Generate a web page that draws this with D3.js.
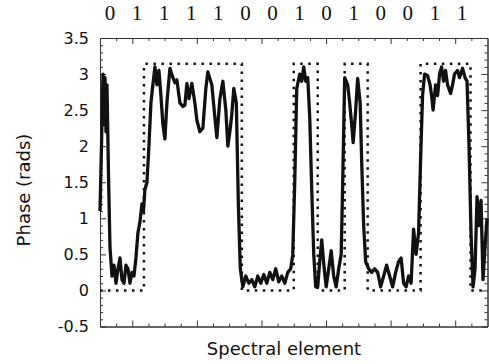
<!DOCTYPE html>
<html lang="en">
<meta charset="utf-8">
<style>
body { margin: 0; background: #fff; }
.axis text { font-family: 'DejaVu Sans', sans-serif; font-size: 16px; fill: #111; }
.axis path, .axis line { stroke: #333; stroke-width: 1px; }
.phase { fill: none; stroke: #111; stroke-width: 3.3px; stroke-linejoin: round; }
.ideal { fill: none; stroke: #111; stroke-width: 2.5px; stroke-dasharray: 2.5,5.5; }
.bits { font-family: 'Liberation Serif', 'Times New Roman', serif; font-size: 21px; fill: #111; }
.title { font-family: 'DejaVu Sans', sans-serif; font-size: 18px; fill: #111; }
</style>
<body>
<div id="chart"></div>
<script src="https://d3js.org/d3.v7.min.js"></script>
<script>

var width = 489,
    height = 364;

// encoded bit pattern shown above the plot
var bits = [0, 1, 1, 1, 1, 0, 0, 1, 0, 1, 0, 0, 1, 1];

// y ticks
var yTicks = [-0.5, 0, 0.5, 1, 1.5, 2, 2.5, 3, 3.5];
var yTickLabels = ["-0.5", "0", "0.5", "1", "1.5", "2", "2.5", "3", "3.5"];

// measured phase, spectral element vs rads
var phaseX = [-10, -9.54, -9.07, -8.76, -8.45, -8.14, -7.84, -7.37, -6.91, -6.29,
  -5.67, -5.05, -4.43, -3.81, -3.20, -2.58, -1.96, -1.34, -0.72, -0.10,
  0.52, 1.13, 1.75, 2.37, 2.99, 3.45, 3.92, 4.54, 5.15, 5.77,
  6.24, 7.01, 7.63, 8.25, 8.87, 9.48, 10.10, 10.72, 11.65, 12.58,
  13.20, 13.81, 14.74, 15.67, 16.29, 16.91, 17.53, 18.45, 19.38, 20.0,
  20.93, 21.86, 22.78, 23.40, 24.64, 25.57, 26.19, 27.11, 28.04, 28.97,
  29.59, 30.21, 30.83, 31.44, 32.22, 32.84, 33.45, 34.23, 35.15, 36.08,
  37.01, 37.94, 38.87, 39.79, 40.72, 41.65, 42.58, 43.51, 44.43, 45.36,
  46.29, 47.22, 48.14, 49.07, 49.69, 50.31, 50.93, 51.86, 52.47, 53.09,
  53.71, 54.33, 54.95, 55.57, 56.19, 56.80, 57.42, 58.04, 58.66, 59.43,
  60.05, 60.83, 61.60, 62.37, 63.14, 63.92, 64.69, 65.16, 65.77, 66.70,
  67.32, 67.94, 68.40, 69.18, 69.79, 70.57, 71.03, 71.65, 72.27, 73.20,
  74.12, 75.05, 75.98, 76.91, 77.84, 78.76, 79.69, 80.62, 81.55, 82.47,
  83.25, 84.02, 84.79, 85.57, 86.34, 87.11, 87.88, 88.66, 89.27, 89.89,
  90.51, 91.44, 92.22, 92.68, 93.15, 93.92, 94.54, 95.16, 95.78, 96.39,
  97.01, 97.63, 98.56, 99.18, 99.79, 100.72, 101.34, 102.27, 103.04, 103.66,
  104.28, 104.90, 105.52, 106.14, 106.76, 107.38, 107.99, 108.61, 109.23, 109.85];
var phaseY = [1.1, 2.0, 3.0, 2.3, 2.95, 2.2, 2.85, 1.6, 0.6, 0.2,
  0.35, 0.1, 0.3, 0.45, 0.15, 0.1, 0.35, 0.3, 0.1, 0.25,
  0.2, 0.45, 0.8, 0.95, 1.2, 1.1, 1.4, 1.5, 2.0, 2.6,
  2.8, 3.1, 2.85, 3.05, 2.7, 2.3, 2.1, 2.6, 3.08, 2.95,
  2.88, 2.92, 2.6, 2.55, 2.57, 2.87, 2.66, 2.87, 2.6, 2.36,
  2.2, 2.25, 2.8, 3.03, 2.85, 2.4, 2.12, 2.65, 2.9, 2.5,
  2.0, 2.2, 2.45, 2.8, 2.6, 1.2, 0.3, 0.05, 0.2, 0.1,
  0.15, 0.05, 0.2, 0.1, 0.22, 0.1, 0.25, 0.15, 0.3, 0.12,
  0.2, 0.1, 0.25, 0.3, 0.5, 1.5, 2.8, 3.0, 2.9, 3.1,
  2.9, 2.95, 2.4, 1.4, 0.5, 0.05, 0.05, 0.4, 0.7, 0.3,
  0.05, 0.3, 0.55, 0.2, 0.05, 0.3, 0.5, 1.5, 2.95, 2.85,
  2.6, 2.3, 2.05, 2.5, 2.94, 2.6, 1.8, 0.9, 0.4, 0.3,
  0.25, 0.3, 0.25, 0.05, 0.2, 0.35, 0.2, 0.05, 0.25, 0.4,
  0.45, 0.1, 0.05, 0.2, 0.1, 0.85, 0.5, 0.8, 1.8, 2.7,
  3.0, 2.98, 2.85, 2.7, 2.5, 2.85, 2.7, 3.0, 3.1, 2.9,
  3.05, 2.85, 2.73, 2.85, 3.0, 3.05, 2.95, 3.08, 2.95, 2.9,
  2.0, 0.8, 0.05, 0.3, 1.3, 0.9, 1.25, 0.15, 0.6, 1.0];

// ideal phase steps (0 or pi) - edges in spectral element units
var idealEdges = [-10, 3.61, 33.92, 50.0, 57.42, 65.77, 72.89, 89.28, 104.74, 110];
var idealLevels = [0, Math.PI, 0, Math.PI, 0, Math.PI, 0, Math.PI, 0];

var x = d3.scaleLinear().domain([-10, 110]).range([100, 487.5]);
var y = d3.scaleLinear().domain([-0.5, 3.5]).range([326.5, 38]);

var svg = d3.select("#chart").append("svg")
    .attr("width", width)
    .attr("height", height);

var majorX = d3.range(0, 101, 20);
var minorX = d3.range(-5, 110, 5).filter(function(d) { return d % 20 !== 0; });
var minorY = d3.range(-5, 35).map(function(d) { return d / 10; })
    .filter(function(d) { return Math.abs(d * 2 - Math.round(d * 2)) > 0.01; });

// minor ticks first
svg.append("g").attr("class", "axis").attr("transform", "translate(0,326.5)")
    .call(d3.axisBottom(x).tickValues(minorX).tickSize(-3).tickSizeOuter(0).tickFormat(""));
svg.append("g").attr("class", "axis").attr("transform", "translate(0,38)")
    .call(d3.axisTop(x).tickValues(minorX).tickSize(-3).tickSizeOuter(0).tickFormat(""));
svg.append("g").attr("class", "axis").attr("transform", "translate(100,0)")
    .call(d3.axisLeft(y).tickValues(minorY).tickSize(-3).tickSizeOuter(0).tickFormat(""));
svg.append("g").attr("class", "axis").attr("transform", "translate(487.5,0)")
    .call(d3.axisRight(y).tickValues(minorY).tickSize(-3).tickSizeOuter(0).tickFormat(""));

// major ticks
svg.append("g").attr("class", "axis").attr("transform", "translate(0,326.5)")
    .call(d3.axisBottom(x).tickValues(majorX).tickSize(-6).tickSizeOuter(0).tickFormat(""));
svg.append("g").attr("class", "axis").attr("transform", "translate(0,38)")
    .call(d3.axisTop(x).tickValues(majorX).tickSize(-6).tickSizeOuter(0).tickFormat(""));
svg.append("g").attr("class", "axis").attr("transform", "translate(100,0)")
    .call(d3.axisLeft(y).tickValues(yTicks).tickSize(-6).tickSizeOuter(0).tickPadding(11)
      .tickFormat(function(d, i) { return yTickLabels[i]; }));
svg.append("g").attr("class", "axis").attr("transform", "translate(487.5,0)")
    .call(d3.axisRight(y).tickValues(yTicks).tickSize(-6).tickSizeOuter(0).tickFormat(""));

// ideal dotted steps
var idealPts = [];
idealLevels.forEach(function(v, i) {
  idealPts.push([idealEdges[i], v]);
  idealPts.push([idealEdges[i + 1], v]);
});
svg.append("path")
    .datum(idealPts)
    .attr("class", "ideal")
    .attr("d", d3.line()
      .x(function(d) { return x(d[0]); })
      .y(function(d) { return y(d[1]); }));

// measured phase
svg.append("path")
    .datum(d3.zip(phaseX, phaseY))
    .attr("class", "phase")
    .attr("d", d3.line()
      .x(function(d) { return x(d[0]); })
      .y(function(d) { return y(d[1]); }));

// bit labels
var bitX = d3.scalePoint().domain(d3.range(bits.length)).range([110, 462]);
svg.append("g").selectAll("text")
    .data(bits)
  .enter().append("text")
    .attr("class", "bits")
    .attr("x", function(d, i) { return bitX(i); })
    .attr("y", 20)
    .attr("text-anchor", "middle")
    .text(function(d) { return d; });

// axis titles
svg.append("text")
    .attr("class", "title")
    .attr("x", 284)
    .attr("y", 355)
    .attr("text-anchor", "middle")
    .text("Spectral element");

svg.append("text")
    .attr("class", "title")
    .attr("transform", "translate(30,190) rotate(-90)")
    .attr("text-anchor", "middle")
    .text("Phase (rads)");

</script>
</body>
</html>
